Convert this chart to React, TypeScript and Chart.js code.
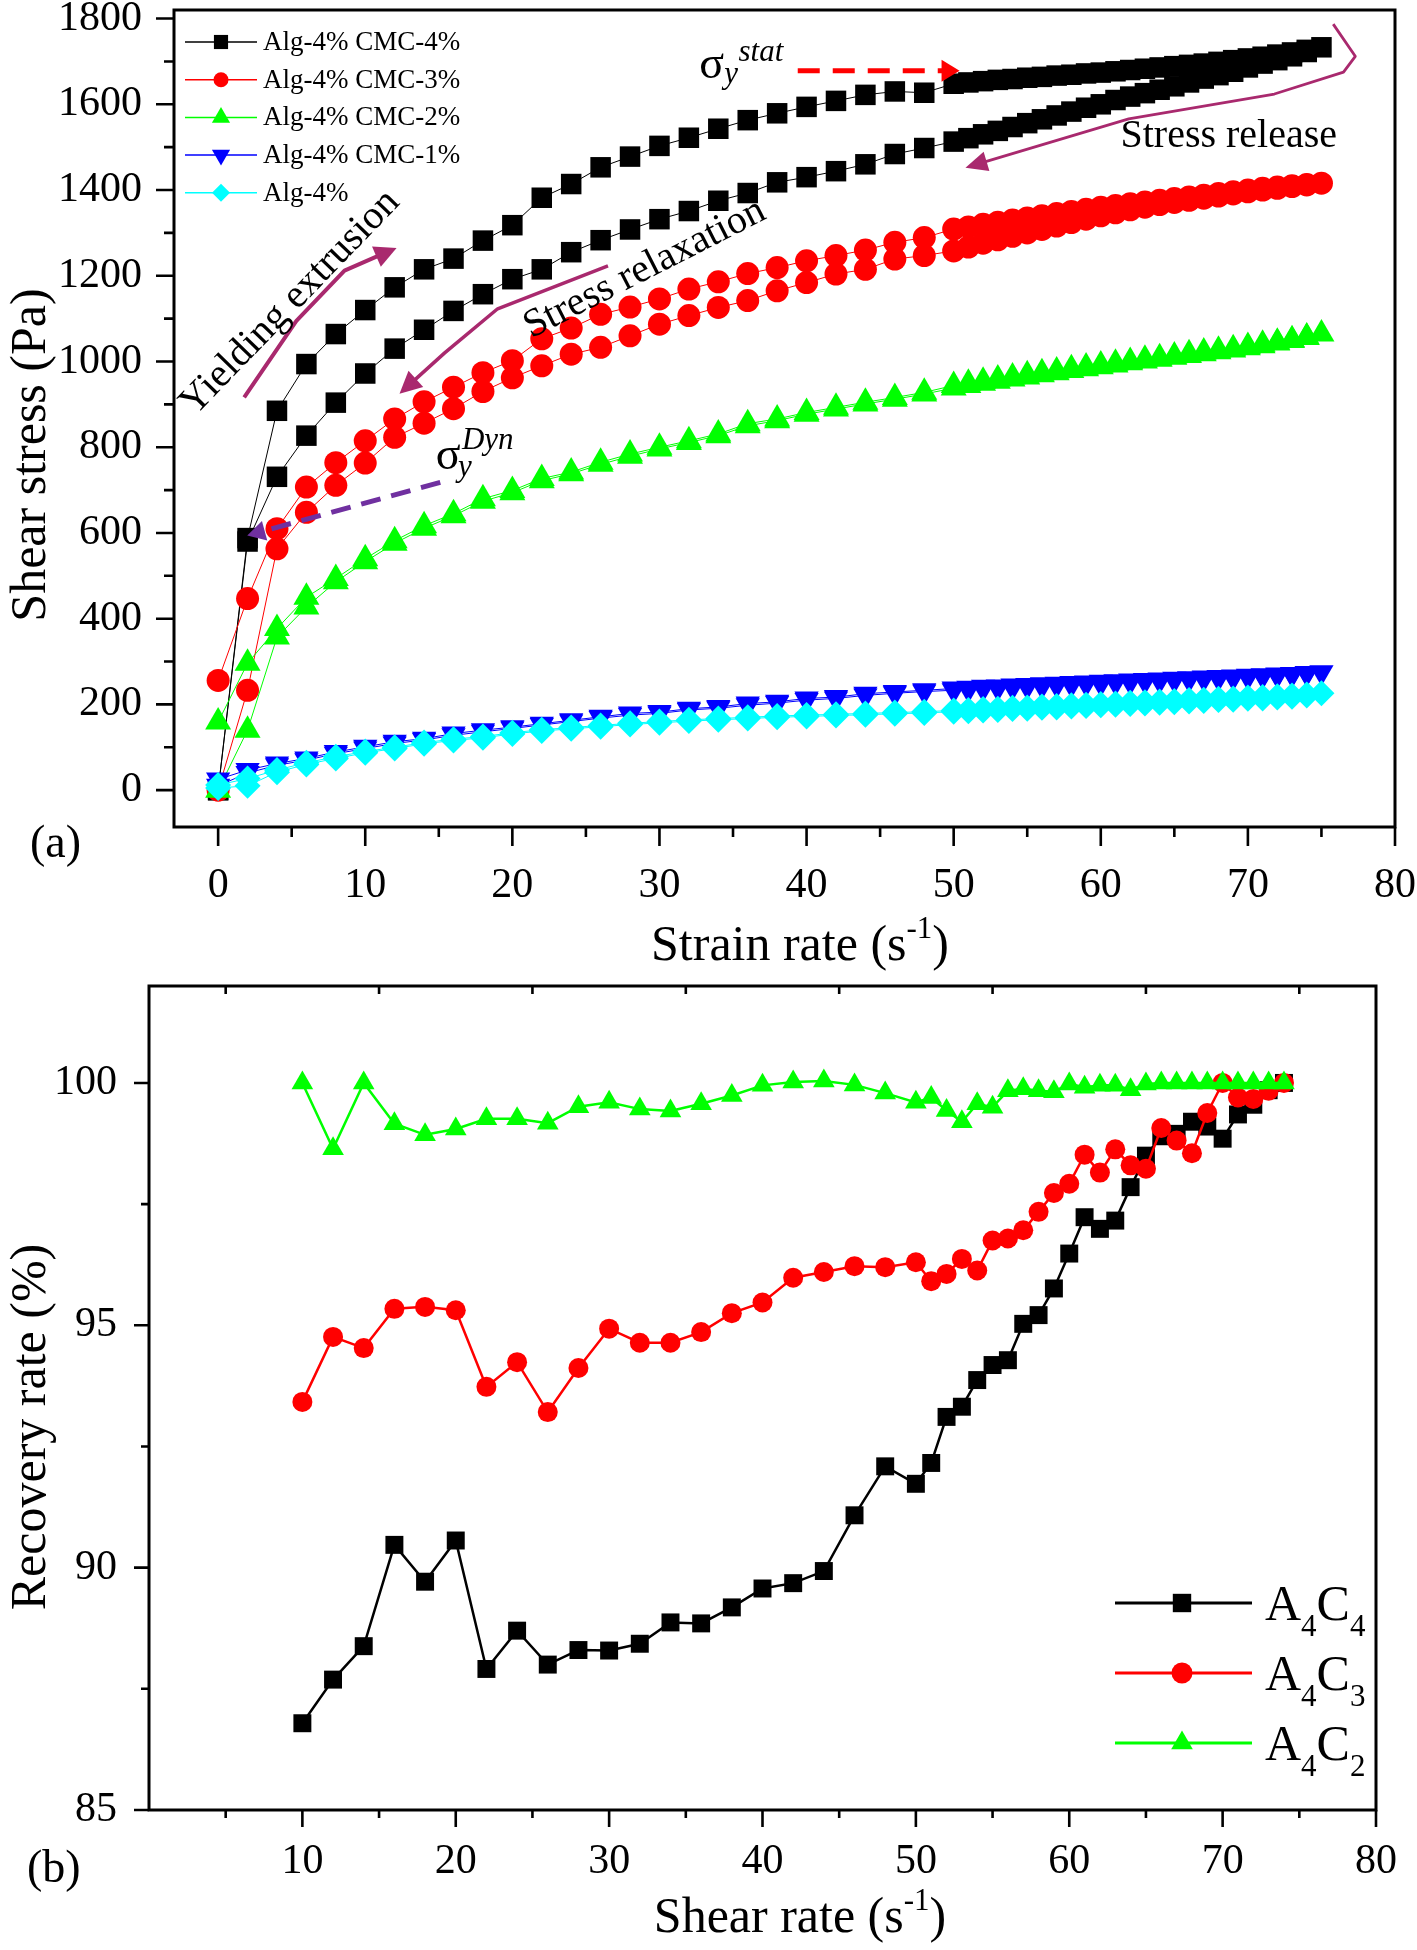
import React, { useEffect, useRef } from "react";
import { Chart, registerables } from "chart.js";

Chart.register(...registerables);

const SERIF = '"Liberation Serif", "Times New Roman", serif';

// ---------------- (a) Shear stress vs strain rate ----------------
const strainRates = [0, 2, 4, 6, 8, 10, 12, 14, 16, 18, 20, 22, 24, 26, 28, 30, 32, 34, 36, 38, 40, 42, 44, 46, 48,
  50, 51, 52, 53, 54, 55, 56, 57, 58, 59, 60, 61, 62, 63, 64, 65, 66, 67, 68, 69, 70, 71, 72, 73, 74, 75];

// up-sweep and down-sweep stresses (Pa), aligned with strainRates
const cmc4Up = [0, 588, 885, 994, 1064, 1120, 1173, 1215, 1240, 1282, 1318, 1382, 1414, 1453, 1478, 1503, 1522, 1543, 1563, 1579, 1594, 1608, 1622, 1630, 1627,
  1648, 1651, 1654, 1657, 1659, 1662, 1664, 1667, 1669, 1672, 1674, 1677, 1680, 1683, 1686, 1689, 1692, 1695, 1699, 1703, 1707, 1711, 1716, 1721, 1727, 1733];
const cmc4Down = [0, 580, 731, 827, 904, 972, 1030, 1074, 1118, 1157, 1192, 1215, 1255, 1283, 1308, 1332, 1351, 1375, 1393, 1418, 1430, 1444, 1460, 1484, 1498,
  1513, 1521, 1530, 1538, 1547, 1556, 1565, 1574, 1583, 1592, 1600, 1610, 1618, 1626, 1634, 1642, 1651, 1660, 1668, 1676, 1686, 1695, 1703, 1712, 1722, 1733];
const cmc3Up = [256, 447, 610, 707, 764, 815, 866, 906, 940, 974, 1002, 1053, 1078, 1110, 1127, 1146, 1169, 1186, 1205, 1219, 1235, 1247, 1260, 1278, 1289,
  1309, 1314, 1320, 1325, 1330, 1335, 1340, 1345, 1350, 1355, 1360, 1364, 1368, 1372, 1376, 1380, 1384, 1388, 1392, 1396, 1400, 1404, 1407, 1410, 1413, 1416];
const cmc3Down = [0, 233, 563, 648, 711, 763, 823, 856, 890, 930, 962, 990, 1017, 1033, 1060, 1087, 1107, 1126, 1142, 1165, 1184, 1204, 1215, 1239, 1247,
  1258, 1267, 1276, 1284, 1292, 1300, 1308, 1316, 1324, 1332, 1340, 1347, 1354, 1360, 1366, 1371, 1376, 1381, 1386, 1391, 1396, 1400, 1404, 1408, 1412, 1416];
const cmc2Up = [159, 296, 377, 450, 494, 540, 582, 617, 645, 680, 699, 727, 742, 765, 784, 800, 815, 831, 855, 866, 881, 893, 905, 916, 928,
  944, 949, 954, 959, 964, 969, 974, 978, 983, 987, 992, 996, 1000, 1005, 1009, 1013, 1018, 1022, 1026, 1030, 1035, 1040, 1045, 1051, 1057, 1064];
const cmc2Down = [0, 140, 357, 427, 486, 533, 576, 611, 640, 674, 694, 722, 738, 760, 779, 796, 811, 827, 850, 862, 877, 889, 901, 912, 924,
  938, 944, 949, 954, 959, 964, 969, 974, 979, 983, 988, 992, 997, 1001, 1005, 1010, 1014, 1018, 1023, 1027, 1032, 1037, 1043, 1049, 1056, 1064];
const cmc1Up = [25, 47, 62, 74, 89, 101, 113, 120, 132, 140, 147, 155, 163, 171, 179, 182, 190, 194, 202, 206, 214, 217, 225, 229, 233,
  237, 239, 241, 242, 244, 245, 247, 248, 250, 251, 253, 254, 256, 257, 258, 260, 261, 263, 264, 265, 267, 268, 270, 271, 273, 275];
const cmc1Down = [10, 40, 58, 70, 85, 97, 109, 117, 128, 136, 144, 152, 160, 168, 175, 179, 187, 191, 198, 203, 210, 214, 221, 226, 230,
  233, 235, 237, 238, 240, 242, 243, 245, 246, 248, 249, 251, 252, 254, 255, 257, 258, 260, 261, 263, 264, 266, 268, 270, 272, 275];
const alg4Up = [12, 27, 47, 64, 78, 90, 100, 111, 119, 125, 134, 141, 146, 151, 156, 160, 164, 167, 170, 173, 175, 177, 179, 181, 183,
  186, 187, 189, 190, 192, 193, 195, 196, 198, 199, 201, 202, 204, 205, 207, 208, 210, 211, 213, 214, 216, 217, 219, 221, 223, 226];
const alg4Down = [5, 10, 42, 60, 74, 87, 97, 108, 116, 122, 131, 138, 143, 148, 153, 157, 161, 164, 167, 170, 172, 174, 176, 178, 180,
  183, 184, 186, 187, 189, 190, 192, 193, 195, 196, 198, 199, 201, 202, 204, 205, 207, 208, 210, 211, 213, 214, 216, 218, 221, 226];

const aYLabels = [0, 200, 400, 600, 800, 1000, 1200, 1400, 1600, 1800];
const aYMinor = [100, 300, 500, 700, 900, 1100, 1300, 1500, 1700];
const aXLabels = [0, 10, 20, 30, 40, 50, 60, 70, 80];
const aXMinor = [5, 15, 25, 35, 45, 55, 65, 75];

// annotation anchors in data units (strain rate, stress)
const yieldArrow = [[1.77, 916], [5.32, 1095], [8.59, 1212], [12.13, 1265]];
const relaxArrow = [[26.5, 1223], [19.0, 1123], [15.4, 1020], [12.33, 925]];
const releaseArrow = [[75.8, 1787], [77.3, 1712], [76.5, 1675], [71.8, 1624], [61.9, 1566], [50.8, 1452]];
const statArrow = [[39.4, 1678], [50.4, 1678]];
const dynArrow = [[15.1, 718], [1.98, 594]];

// ---------------- (b) Recovery rate vs shear rate ----------------
const shearRates = [10, 12, 14, 16, 18, 20, 22, 24, 26, 28, 30, 32, 34, 36, 38, 40, 42, 44, 46, 48, 50,
  51, 52, 53, 54, 55, 56, 57, 58, 59, 60, 61, 62, 63, 64, 65, 66, 67, 68, 69, 70, 71, 72, 73, 74];
const a4c4 = [86.79, 87.69, 88.38, 90.47, 89.71, 90.56, 87.91, 88.70, 88.00, 88.30, 88.29, 88.43, 88.87, 88.85, 89.18, 89.57, 89.68, 89.93, 91.08, 92.09, 91.73,
  92.16, 93.11, 93.32, 93.87, 94.18, 94.28, 95.03, 95.21, 95.76, 96.48, 97.23, 96.99, 97.16, 97.85, 98.50, 98.90, 98.95, 99.20, 99.10, 98.85, 99.35, 99.55, 99.85, 100.0];
const a4c3 = [93.42, 94.76, 94.53, 95.34, 95.38, 95.31, 93.73, 94.24, 93.21, 94.12, 94.93, 94.64, 94.64, 94.86, 95.25, 95.47, 95.98, 96.10, 96.22, 96.20, 96.30,
  95.91, 96.06, 96.37, 96.13, 96.75, 96.79, 96.96, 97.34, 97.73, 97.92, 98.52, 98.15, 98.63, 98.30, 98.23, 99.07, 98.81, 98.55, 99.38, 100.0, 99.70, 99.67, 99.84, 100.0];
const a4c2 = [100.0, 98.64, 100.0, 99.16, 98.93, 99.05, 99.26, 99.26, 99.17, 99.51, 99.60, 99.46, 99.42, 99.57, 99.74, 99.95, 100.02, 100.04, 99.96, 99.79, 99.60,
  99.70, 99.43, 99.20, 99.57, 99.50, 99.84, 99.88, 99.84, 99.82, 99.98, 99.91, 99.95, 99.95, 99.86, 99.98, 100.0, 100.0, 100.0, 100.0, 100.0, 100.0, 100.0, 100.0, 100.0];

const bYLabels = [85, 90, 95, 100];
const bYMinor = [87.5, 92.5, 97.5];
const bXLabels = [10, 20, 30, 40, 50, 60, 70, 80];
const bXMinor = [5, 15, 25, 35, 45, 55, 65, 75];

// ---------------- helpers ----------------
type Style = "rect" | "circle" | "triangle" | "rectRot";

function drawMarker(ctx: CanvasRenderingContext2D, style: Style, x: number, y: number, r: number, rot: number, color: string) {
  ctx.save();
  ctx.fillStyle = color;
  ctx.beginPath();
  if (style === "circle") ctx.arc(x, y, r, 0, Math.PI * 2);
  else if (style === "rect") {
    const s = r * Math.SQRT1_2;
    ctx.rect(x - s, y - s, 2 * s, 2 * s);
  } else if (style === "triangle") {
    let a = (rot * Math.PI) / 180;
    ctx.moveTo(x + Math.sin(a) * r, y - Math.cos(a) * r);
    a += (2 * Math.PI) / 3;
    ctx.lineTo(x + Math.sin(a) * r, y - Math.cos(a) * r);
    a += (2 * Math.PI) / 3;
    ctx.lineTo(x + Math.sin(a) * r, y - Math.cos(a) * r);
    ctx.closePath();
  } else {
    ctx.moveTo(x - r, y);
    ctx.lineTo(x, y - r);
    ctx.lineTo(x + r, y);
    ctx.lineTo(x, y + r);
    ctx.closePath();
  }
  ctx.fill();
  ctx.restore();
}

function drawArrow(ctx: CanvasRenderingContext2D, pts: number[][], color: string, width: number, dash: number[], headLen: number, headHalf: number) {
  const n = pts.length;
  const [tx, ty] = pts[n - 1];
  const [qx, qy] = pts[n - 2];
  const ang = Math.atan2(ty - qy, tx - qx);
  const c = Math.cos(ang), s = Math.sin(ang);
  ctx.save();
  ctx.strokeStyle = color;
  ctx.lineWidth = width;
  ctx.lineJoin = "round";
  ctx.setLineDash(dash);
  ctx.beginPath();
  ctx.moveTo(pts[0][0], pts[0][1]);
  for (let i = 1; i < n - 1; i++) ctx.lineTo(pts[i][0], pts[i][1]);
  ctx.lineTo(tx - c * headLen * 0.8, ty - s * headLen * 0.8);
  ctx.stroke();
  ctx.setLineDash([]);
  ctx.fillStyle = color;
  ctx.beginPath();
  ctx.moveTo(tx, ty);
  ctx.lineTo(tx - c * headLen - s * headHalf, ty - s * headLen + c * headHalf);
  ctx.lineTo(tx - c * headLen + s * headHalf, ty - s * headLen - c * headHalf);
  ctx.closePath();
  ctx.fill();
  ctx.restore();
}

function drawFrameTicks(ctx: CanvasRenderingContext2D, chart: any, yMajor: number[], yMinor: number[], xMajor: number[], xMinor: number[], lens: { yM: number; ym: number; xM: number; xm: number }, topMinor?: number[]) {
  const a = chart.chartArea;
  const xs = chart.scales.x;
  const ys = chart.scales.y;
  ctx.save();
  ctx.strokeStyle = "#000";
  ctx.lineWidth = 3;
  ctx.strokeRect(a.left, a.top, a.right - a.left, a.bottom - a.top);
  ctx.lineWidth = 2.6;
  ctx.beginPath();
  yMajor.forEach((v) => { const p = ys.getPixelForValue(v); ctx.moveTo(a.left - lens.yM, p); ctx.lineTo(a.left, p); });
  yMinor.forEach((v) => { const p = ys.getPixelForValue(v); ctx.moveTo(a.left - lens.ym, p); ctx.lineTo(a.left, p); });
  xMajor.forEach((v) => { const p = xs.getPixelForValue(v); ctx.moveTo(p, a.bottom); ctx.lineTo(p, a.bottom + lens.xM); });
  xMinor.forEach((v) => { const p = xs.getPixelForValue(v); ctx.moveTo(p, a.bottom); ctx.lineTo(p, a.bottom + lens.xm); });
  if (topMinor) topMinor.forEach((v) => { const p = xs.getPixelForValue(v); ctx.moveTo(p, a.top); ctx.lineTo(p, a.top + lens.xm); });
  ctx.stroke();
  ctx.restore();
}

function drawXTitle(ctx: CanvasRenderingContext2D, main: string, cx: number, baseline: number) {
  ctx.save();
  ctx.fillStyle = "#000";
  ctx.textBaseline = "alphabetic";
  ctx.textAlign = "left";
  const big = `50px ${SERIF}`;
  const small = `31px ${SERIF}`;
  ctx.font = big;
  const w1 = ctx.measureText(main).width;
  const w3 = ctx.measureText(")").width;
  ctx.font = small;
  const w2 = ctx.measureText("-1").width;
  let x = cx - (w1 + w2 + w3) / 2;
  ctx.font = big;
  ctx.fillText(main, x, baseline);
  x += w1;
  ctx.font = small;
  ctx.fillText("-1", x, baseline - 22);
  x += w2;
  ctx.font = big;
  ctx.fillText(")", x, baseline);
  ctx.restore();
}

function drawYTitle(ctx: CanvasRenderingContext2D, text: string, bx: number, cy: number) {
  ctx.save();
  ctx.fillStyle = "#000";
  ctx.translate(bx, cy);
  ctx.rotate(-Math.PI / 2);
  ctx.font = `50px ${SERIF}`;
  ctx.textAlign = "center";
  ctx.textBaseline = "alphabetic";
  ctx.fillText(text, 0, 0);
  ctx.restore();
}

function scaleOpts(min: number, max: number, values: number[], padding: number, axis: "x" | "y", fixed: number) {
  return {
    type: "linear" as const,
    min,
    max,
    afterBuildTicks: (scale: any) => { scale.ticks = values.map((v) => ({ value: v })); },
    afterFit: (scale: any) => {
      if (axis === "y") scale.width = fixed; else scale.height = fixed;
      scale.paddingTop = 0;
      scale.paddingBottom = 0;
      scale.paddingLeft = 0;
      scale.paddingRight = 0;
    },
    grid: { display: false, drawTicks: false },
    border: { display: false },
    ticks: {
      autoSkip: false,
      maxRotation: 0,
      minRotation: 0,
      padding,
      color: "#000",
      font: { family: SERIF, size: 42 },
      callback: (v: any) => String(v),
    },
  };
}

const seriesA = [
  { label: "Alg-4% CMC-4%", color: "#000000", style: "rect" as Style, r: 14.5, lr: 10, rot: 0, up: cmc4Up, down: cmc4Down },
  { label: "Alg-4% CMC-3%", color: "#FF0000", style: "circle" as Style, r: 11.5, lr: 7.5, rot: 0, up: cmc3Up, down: cmc3Down },
  { label: "Alg-4% CMC-2%", color: "#00FF00", style: "triangle" as Style, r: 15, lr: 10.5, rot: 0, up: cmc2Up, down: cmc2Down },
  { label: "Alg-4% CMC-1%", color: "#0000FF", style: "triangle" as Style, r: 14, lr: 10.5, rot: 180, up: cmc1Up, down: cmc1Down },
  { label: "Alg-4%", color: "#00FFFF", style: "rectRot" as Style, r: 13, lr: 9, rot: 0, up: alg4Up, down: alg4Down },
];

const seriesB = [
  { label: ["A", "4", "C", "4"], color: "#000000", style: "rect" as Style, r: 12.7, lr: 13, values: a4c4 },
  { label: ["A", "4", "C", "3"], color: "#FF0000", style: "circle" as Style, r: 10, lr: 10.5, values: a4c3 },
  { label: ["A", "4", "C", "2"], color: "#00FF00", style: "triangle" as Style, r: 12.5, lr: 12.5, values: a4c2 },
];

function loopPath(up: number[], down: number[]) {
  const pts = strainRates.map((x, i) => ({ x, y: up[i] }));
  for (let i = strainRates.length - 2; i >= 0; i--) pts.push({ x: strainRates[i], y: down[i] });
  return pts;
}

function buildA(canvas: HTMLCanvasElement) {
  const datasets = seriesA.map((s, i) => ({
    label: s.label,
    data: loopPath(s.up, s.down),
    showLine: true,
    borderColor: s.color,
    borderWidth: 1,
    backgroundColor: s.color,
    pointBackgroundColor: s.color,
    pointBorderColor: s.color,
    pointBorderWidth: 0,
    pointRadius: s.r,
    pointStyle: s.style,
    pointRotation: s.rot,
    order: 5 - i,
  }));
  const deco = {
    id: "decoA",
    afterDraw(chart: any) {
      const ctx: CanvasRenderingContext2D = chart.ctx;
      const a = chart.chartArea;
      const xs = chart.scales.x, ys = chart.scales.y;
      const P = (pt: number[]) => [xs.getPixelForValue(pt[0]), ys.getPixelForValue(pt[1])];
      drawFrameTicks(ctx, chart, aYLabels, aYMinor, aXLabels, aXMinor, { yM: 18, ym: 10, xM: 19, xm: 10 });
      drawXTitle(ctx, "Strain rate (s", 800, 960);
      drawYTitle(ctx, "Shear stress (Pa)", 45, 455);
      ctx.save();
      ctx.fillStyle = "#000";
      ctx.font = `46px ${SERIF}`;
      ctx.textBaseline = "alphabetic";
      ctx.fillText("(a)", 30, 857);
      ctx.restore();

      // legend
      seriesA.forEach((s, i) => {
        const y = a.top + 32 + i * 37.7;
        const l0 = a.left + 11, l1 = a.left + 83, mx = a.left + 47;
        ctx.save();
        ctx.strokeStyle = s.color;
        ctx.lineWidth = 1.5;
        ctx.beginPath();
        ctx.moveTo(l0, y); ctx.lineTo(l1, y);
        ctx.stroke();
        ctx.restore();
        drawMarker(ctx, s.style, mx, y, s.lr, s.rot, s.color);
        ctx.save();
        ctx.fillStyle = "#000";
        ctx.font = `27px ${SERIF}`;
        ctx.textBaseline = "middle";
        ctx.fillText(s.label, a.left + 89, y + 1);
        ctx.restore();
      });

      // arrows
      const mag = "#A9296E";
      drawArrow(ctx, yieldArrow.map(P), mag, 4, [], 22, 11);
      drawArrow(ctx, relaxArrow.map(P), mag, 3.5, [], 22, 11);
      drawArrow(ctx, releaseArrow.map(P), mag, 2.8, [], 22, 10);
      drawArrow(ctx, statArrow.map(P), "#FF0000", 5, [22, 13], 18, 11);
      drawArrow(ctx, dynArrow.map(P), "#7030A0", 5, [20, 11], 18, 10);

      // annotation texts
      const rotText = (txt: string, pt: number[], deg: number, size: number) => {
        const [px, py] = P(pt);
        ctx.save();
        ctx.fillStyle = "#000";
        ctx.translate(px, py);
        ctx.rotate((deg * Math.PI) / 180);
        ctx.font = `${size}px ${SERIF}`;
        ctx.textAlign = "center";
        ctx.textBaseline = "middle";
        ctx.fillText(txt, 0, 0);
        ctx.restore();
      };
      rotText("Yielding extrusion", [4.9, 1137], -46, 40);
      rotText("Stress relaxation", [29.0, 1216], -27, 40);
      rotText("Stress release", [68.7, 1524], 0, 40);

      const sigma = (base: number[], sub: number[], sup: number[], supText: string) => {
        ctx.save();
        ctx.fillStyle = "#000";
        ctx.textBaseline = "alphabetic";
        ctx.textAlign = "left";
        let [px, py] = P(base);
        ctx.font = `46px ${SERIF}`;
        ctx.fillText("σ", px, py);
        [px, py] = P(sub);
        ctx.font = `italic 31px ${SERIF}`;
        ctx.fillText("y", px, py);
        [px, py] = P(sup);
        ctx.fillText(supText, px, py);
        ctx.restore();
      };
      sigma([32.7, 1661], [34.4, 1650], [35.37, 1701], "stat");
      sigma([14.8, 750], [16.3, 732], [16.57, 797], "Dyn");
    },
  };
  return new Chart(canvas, {
    type: "scatter",
    data: { datasets },
    options: {
      animation: false,
      responsive: false,
      events: [],
      layout: { autoPadding: false, padding: { left: 0, top: 10, right: 22, bottom: 0 } },
      plugins: { legend: { display: false }, tooltip: { enabled: false } },
      elements: { line: { tension: 0 } },
      scales: {
        x: scaleOpts(-3, 80, aXLabels, 34, "x", 153),
        y: scaleOpts(-86, 1820, aYLabels, 32, "y", 174),
      },
    },
    plugins: [deco],
  } as any);
}

function buildB(canvas: HTMLCanvasElement) {
  const datasets = seriesB.map((s, i) => ({
    label: s.label.join(""),
    data: shearRates.map((x, k) => ({ x, y: s.values[k] })),
    showLine: true,
    borderColor: s.color,
    borderWidth: 2.5,
    backgroundColor: s.color,
    pointBackgroundColor: s.color,
    pointBorderColor: s.color,
    pointBorderWidth: 0,
    pointRadius: s.r,
    pointStyle: s.style,
    order: 3 - i,
  }));
  const deco = {
    id: "decoB",
    afterDraw(chart: any) {
      const ctx: CanvasRenderingContext2D = chart.ctx;
      drawFrameTicks(ctx, chart, bYLabels, bYMinor, bXLabels, bXMinor, { yM: 15, ym: 8, xM: 17, xm: 8 }, bXMinor);
      drawXTitle(ctx, "Shear rate (s", 800, 952);
      drawYTitle(ctx, "Recovery rate (%)", 45, 447);
      ctx.save();
      ctx.fillStyle = "#000";
      ctx.font = `46px ${SERIF}`;
      ctx.textBaseline = "alphabetic";
      ctx.fillText("(b)", 27, 902);
      ctx.restore();

      seriesB.forEach((s, i) => {
        const y = 623 + i * 70;
        ctx.save();
        ctx.strokeStyle = s.color;
        ctx.lineWidth = 3;
        ctx.beginPath();
        ctx.moveTo(1115, y); ctx.lineTo(1252, y);
        ctx.stroke();
        ctx.restore();
        drawMarker(ctx, s.style, 1182, y, s.lr, 0, s.color);
        ctx.save();
        ctx.fillStyle = "#000";
        ctx.textBaseline = "alphabetic";
        let x = 1265;
        const base = y + 17;
        s.label.forEach((part, k) => {
          const isSub = k % 2 === 1;
          ctx.font = isSub ? `31px ${SERIF}` : `50px ${SERIF}`;
          ctx.fillText(part, x, isSub ? base + 16 : base);
          x += ctx.measureText(part).width;
        });
        ctx.restore();
      });
    },
  };
  return new Chart(canvas, {
    type: "scatter",
    data: { datasets },
    options: {
      animation: false,
      responsive: false,
      events: [],
      layout: { autoPadding: false, padding: { left: 0, top: 6, right: 41, bottom: 0 } },
      plugins: { legend: { display: false }, tooltip: { enabled: false } },
      elements: { line: { tension: 0 } },
      scales: {
        x: scaleOpts(0, 80, bXLabels, 27, "x", 140),
        y: scaleOpts(85, 102, bYLabels, 32, "y", 149),
      },
    },
    plugins: [deco],
  } as any);
}

export default function App() {
  const refA = useRef<HTMLCanvasElement>(null);
  const refB = useRef<HTMLCanvasElement>(null);
  useEffect(() => {
    const ca = buildA(refA.current as HTMLCanvasElement);
    const cb = buildB(refB.current as HTMLCanvasElement);
    return () => {
      ca.destroy();
      cb.destroy();
    };
  }, []);
  return (
    <div style={{ position: "absolute", left: 0, top: 0, width: 1417, height: 1950, background: "#fff", overflow: "hidden" }}>
      <canvas ref={refA} width={1417} height={980} style={{ position: "absolute", left: 0, top: 0 }} />
      <canvas ref={refB} width={1417} height={970} style={{ position: "absolute", left: 0, top: 980 }} />
    </div>
  );
}
